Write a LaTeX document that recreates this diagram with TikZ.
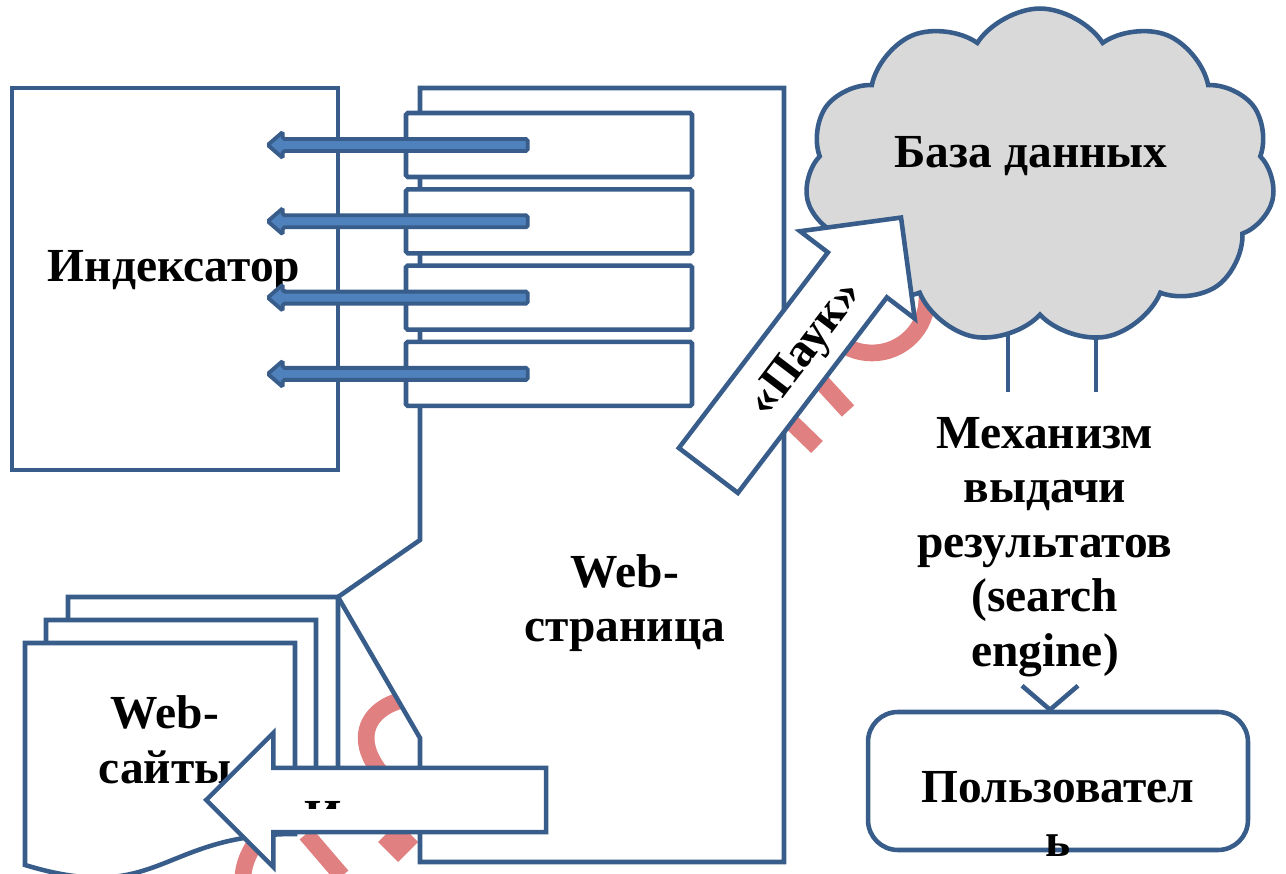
\documentclass[tikz,border=0pt]{standalone}
\usepackage{fontspec}
\setmainfont{Liberation Serif}
\usepackage{tikz}
\usetikzlibrary{shapes.symbols,shapes.arrows}
\definecolor{ColLine}{RGB}{56,93,138}
\definecolor{ColFill}{RGB}{79,129,189}
\definecolor{ColCloud}{RGB}{217,217,217}
\definecolor{ColMark}{RGB}{224,128,128}
\tikzstyle{TextBold}=[font=\fontsize{27}{31}\selectfont\bfseries,align=center,inner sep=0pt]
\tikzstyle{BoxBlue}=[draw=ColLine,fill=white,line width=2.6pt]
\tikzstyle{SideLine}=[ColLine,line width=2.6pt]
\tikzstyle{SlotBox}=[BoxBlue,rectangle,rounded corners=1pt,minimum width=5.72cm,
minimum height=1.28cm,inner sep=0pt]
\tikzstyle{FeedArrow}=[draw=ColLine,fill=ColFill,line width=2.2pt,rounded corners=1pt]
\tikzstyle{CloudBase}=[cloud,draw=ColLine,fill=ColCloud,line width=2.6pt,cloud puffs=11,
cloud puff arc=115,aspect=1.45,minimum width=9.4cm,minimum height=6.7cm,inner sep=0pt]
\tikzstyle{BigArrow}=[BoxBlue,single arrow,single arrow head extend=0.7cm,
single arrow head indent=0pt,inner xsep=0pt]
\tikzstyle{PinkMark}=[ColMark,line width=9.5pt]

\begin{document}
\begin{tikzpicture}[x=0.02cm,y=-0.02cm]
        \useasboundingbox (0,0) rectangle (1286,874);
        % pale red marks behind everything
        \draw[PinkMark] (872,298) circle[radius=1.1cm];
        \draw[PinkMark] (815,375) -- (848,411);
        \draw[PinkMark] (782,413) -- (817,447);
        \draw[PinkMark] (402,700) .. controls (358,712) and (352,752) .. (398,790);
        \draw[PinkMark] (306,834) -- (342,876);
        \draw[PinkMark] (260,836) .. controls (250,850) and (244,862) .. (243,876);
        \fill[ColMark] (398,822) -- (418,842) -- (398,862) -- (378,842) -- cycle;
        % indexer
        \node[BoxBlue,rectangle,minimum width=6.52cm,minimum height=7.64cm,inner sep=0pt](ix)at(175,279){};
        \node[TextBold](ixtext)at(174,271){Индексатор};
        % database
        \draw[SideLine] (1008,300) -- (1008,392);
        \draw[SideLine] (1096,300) -- (1096,392);
        \node[CloudBase](db)at(1040,176){};
        \node[TextBold](dbtext)at(1031,156){База данных};
        % web sites
        \foreach \dx/\dy in {43/-46,21/-23,0/0}
            \draw[BoxBlue,shift={(25+\dx,643+\dy)}] (0,0) -- (270,0) -- (270,191)
                .. controls (135,191) and (135,263) .. (0,222) -- cycle;
        \coordinate (sitetip) at (338,597);
        \node[TextBold](sitetext)at(165,740){Web-\\сайты};
        % web page
        \draw[BoxBlue] (420,540) -- (420,88) -- (784,88) -- (784,862) -- (420,862)
            -- (420,738) -- (sitetip) -- cycle;
        \node[TextBold](pagetext)at(625,603){Web-\\страница};
        \foreach \i in {1,...,4}
            \node[SlotBox](r\i)at(549,{145+76.3*(\i-1)}){};
        \foreach \i in {1,...,4}
            \draw[FeedArrow] ([shift={(124,-6)}]r\i.west) -- ++(-245,0) -- ++(0,-7)
                -- ++(-15,13) -- ++(15,13) -- ++(0,-7) -- ++(245,0) -- cycle;
        % crawler and indexing arrows
        \node[BigArrow,inner ysep=19.8pt,rotate=52.7,minimum height=6.36cm,minimum width=2.82cm,anchor=tip](spider)at(903,215){};
        \node[TextBold,rotate=52.7](spidertext)at(807,350){«Паук»};
        \node[BigArrow,inner ysep=17pt,shape border rotate=180,minimum height=6.8cm,minimum width=2.6cm,anchor=tip](crawl)at(203,800){};
        \begin{scope}
            \clip (295,790) rectangle (355,809);
            \node[TextBold,anchor=base](crawltext)at(323,833){И};
        \end{scope}
        % search engine and user
        \node[TextBold](engine)at(1045,547){Механизм\\выдачи\\результатов\\(search\\engine)};
        \node[BoxBlue,rectangle,rounded corners=17pt,minimum width=7.6cm,minimum height=2.76cm](user)at(1058,781){};
        \node[TextBold](usertext)at(1058,814){Пользовател\\ь};
        \draw[SideLine] ([shift={(-36,-24)}]user.north) -- ([shift={(-8,0)}]user.north)
            -- ([shift={(20,-24)}]user.north);
    \end{tikzpicture}
\end{document}
